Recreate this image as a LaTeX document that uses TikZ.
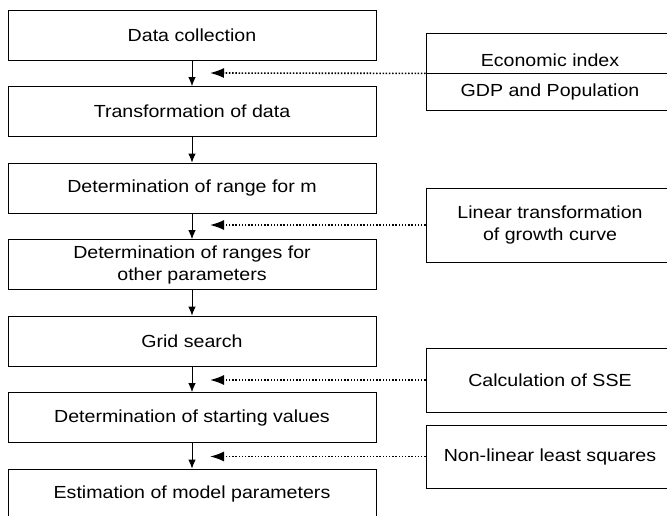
\documentclass[tikz,border=0pt]{standalone}
\usepackage{fontspec}
\setmainfont{Liberation Sans}[FakeStretch=1.12]
\usetikzlibrary{arrows.meta}

\begin{document}
\begin{tikzpicture}[x=1pt,y=-1pt,
    stage/.style={draw,line width=0.8pt,minimum width=368pt,minimum height=50pt,
      align=center,inner sep=0pt},
    input/.style={draw,line width=0.8pt,minimum width=248pt,align=center,inner sep=0pt},
    flow/.style={-{Latex[length=9pt,width=7.5pt]},line width=0.9pt},
    feed/.style={-{Latex[length=14pt,width=10pt]},line width=1.6pt,
      dash pattern=on 1.5pt off 1.7pt},
    font=\fontsize{17.5}{22}\selectfont]
  \useasboundingbox (0,0) rectangle (667,516);
  \clip (0,0) rectangle (667,516);
  % main steps
  \node[stage] (collect) at (192,35) {Data collection};
  \node[stage] (transf) at (192,111.5) {Transformation of data};
  \node[stage] (rangem) at (192,188) {Determination of range for m};
  \node[stage] (rangeo) at (192,264.5) {Determination of ranges for\\other parameters};
  \node[stage] (grid) at (192,341) {Grid search};
  \node[stage] (start) at (192,417.5) {Determination of starting values};
  \node[stage] (estim) at (192,494) {Estimation of model parameters};
  % side inputs
  \node[input,minimum height=40pt,text height=26.5pt,text depth=0pt] (econ) at (550,53) {Economic index};
  \node[input,minimum height=37pt] (gdp) at (550,91.5) {GDP and Population};
  \node[input,minimum height=74pt] (lintr) at (550,225) {Linear transformation\\of growth curve};
  \node[input,minimum height=64pt] (sse) at (550,380) {Calculation of SSE};
  \node[input,minimum height=63pt] (nlls) at (550,456.5) {Non-linear least squares};
  \coordinate (in1) at (210,73);
  \coordinate (in2) at (210,225);
  \coordinate (in3) at (210,380);
  \coordinate (in4) at (210,456.5);
  \begin{scope}[flow]
    \draw (collect) -- (transf);
    \draw (transf) -- (rangem);
    \draw (rangem) -- (rangeo);
    \draw (rangeo) -- (grid);
    \draw (grid) -- (start);
    \draw (start) -- (estim);
  \end{scope}
  \begin{scope}[feed]
    \draw (econ.south west) -- (in1);
    \draw (lintr.west) -- (in2);
    \draw (sse.west) -- (in3);
    \draw (nlls.west) -- (in4);
  \end{scope}
\end{tikzpicture}
\end{document}
